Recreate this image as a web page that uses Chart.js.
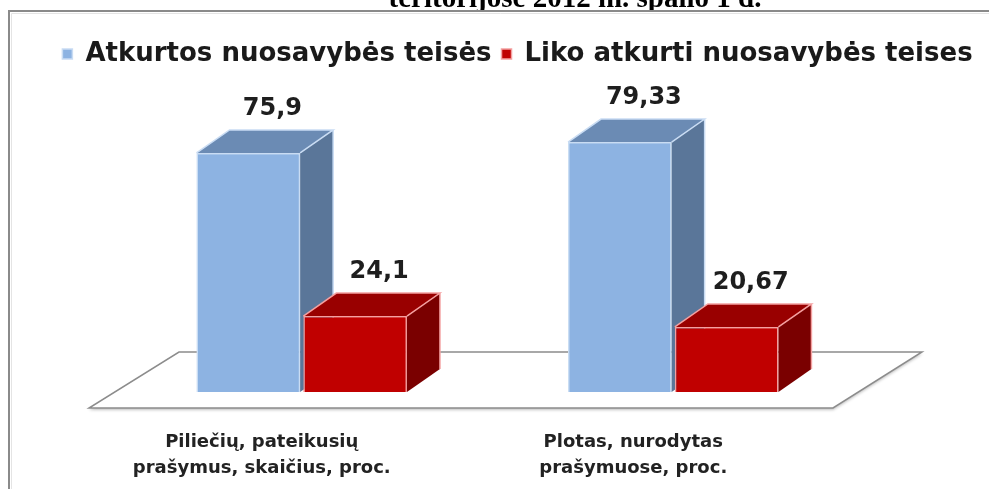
<!DOCTYPE html>
<html>
<head>
<meta charset="utf-8">
<script src="https://cdn.jsdelivr.net/npm/chart.js@4.4.1/dist/chart.umd.min.js"></script>
<style>
  html, body { margin: 0; padding: 0; background: #fff; }
  #wrap { width: 989px; height: 489px; position: relative; }
</style>
</head>
<body>
<div id="wrap"><canvas id="chart"></canvas></div>
<script>
// data
var categories = [["Piliečių, pateikusių", "prašymus, skaičius, proc."], ["Plotas, nurodytas", "prašymuose, proc."]];
var seriesNames = ["Atkurtos nuosavybės teisės", "Liko atkurti nuosavybės teises"];
var restored = [75.9, 79.33];
var remaining = [24.1, 20.67];
var titleText = "teritorijose 2012 m. spalio 1 d.";

// colours per series: front, side, top, edge
var faces = [
    { front: '#8db3e2', side: '#5a7699', top: '#6b8bb4', edge: '#c9dcf3' },
    { front: '#c00000', side: '#7a0000', top: '#990000', edge: '#f4a0a0' }
];
var DX = 33, DY = -23;

function fmt(v) { return String(v).replace('.', ','); }

// frame, title, floor
var backdrop = {
    id: 'backdrop',
    beforeDraw: function (chart) {
        var ctx = chart.ctx;
        ctx.save();
        ctx.fillStyle = '#fff';
        ctx.fillRect(0, 0, chart.width, chart.height);
        ctx.font = 'bold 29px "Liberation Serif", "Times New Roman", serif';
        ctx.fillStyle = '#000';
        ctx.textAlign = 'center';
        ctx.textBaseline = 'alphabetic';
        ctx.fillText(titleText, 575, 7);
        ctx.fillStyle = '#fff';
        ctx.fillRect(0, 10, chart.width, chart.height);
        ctx.strokeStyle = '#8a8a8a';
        ctx.lineWidth = 2;
        ctx.beginPath();
        ctx.moveTo(9, chart.height);
        ctx.lineTo(9, 11);
        ctx.lineTo(chart.width, 11);
        ctx.stroke();
        ctx.strokeStyle = '#e4e4e4';
        ctx.lineWidth = 1;
        ctx.beginPath();
        ctx.moveTo(11.5, chart.height);
        ctx.lineTo(11.5, 13.5);
        ctx.lineTo(chart.width, 13.5);
        ctx.stroke();
        ctx.restore();
    },
    beforeDatasetsDraw: function (chart) {
        var ctx = chart.ctx, ca = chart.chartArea;
        var y0 = chart.scales.y.getPixelForValue(0);
        var fl = ca.left - 27, fr = ca.right - 26, fy = y0 + 16;
        var bl = ca.left + 63, br = ca.right + 63, by = y0 - 40;
        ctx.save();
        ctx.fillStyle = '#ffffff';
        ctx.shadowColor = 'rgba(0,0,0,0.25)';
        ctx.shadowBlur = 3;
        ctx.shadowOffsetY = 2;
        ctx.beginPath();
        ctx.moveTo(fl, fy);
        ctx.lineTo(fr, fy);
        ctx.lineTo(br, by);
        ctx.lineTo(bl, by);
        ctx.closePath();
        ctx.fill();
        ctx.shadowColor = 'transparent';
        ctx.strokeStyle = '#8c8c8c';
        ctx.lineWidth = 1.5;
        ctx.stroke();
        ctx.restore();
    }
};

// 3d boxes (front redrawn in series order so each box hides the one behind), labels
var boxes = {
    id: 'boxes',
    afterDatasetsDraw: function (chart) {
        var ctx = chart.ctx;
        chart.data.datasets.forEach(function (ds, i) {
            var f = faces[i];
            chart.getDatasetMeta(i).data.forEach(function (bar, j) {
                var l = bar.x - bar.width / 2, r = bar.x + bar.width / 2;
                var t = bar.y, b = bar.base;
                bar.draw(ctx, chart.chartArea);
                ctx.save();
                ctx.lineWidth = 1.5;
                ctx.strokeStyle = f.edge;
                ctx.fillStyle = f.side;
                ctx.beginPath();
                ctx.moveTo(r, t);
                ctx.lineTo(r + DX, t + DY);
                ctx.lineTo(r + DX, b + DY);
                ctx.lineTo(r, b);
                ctx.closePath();
                ctx.fill();
                ctx.fillStyle = f.top;
                ctx.beginPath();
                ctx.moveTo(l, t);
                ctx.lineTo(l + DX, t + DY);
                ctx.lineTo(r + DX, t + DY);
                ctx.lineTo(r, t);
                ctx.closePath();
                ctx.fill();
                ctx.beginPath();
                ctx.moveTo(l, t);
                ctx.lineTo(l + DX, t + DY);
                ctx.lineTo(r + DX, t + DY);
                ctx.lineTo(r, t);
                ctx.moveTo(r + DX, t + DY);
                ctx.lineTo(r + DX, b + DY);
                ctx.stroke();
                ctx.font = 'bold 24px "DejaVu Sans", sans-serif';
                ctx.fillStyle = '#1e1e1e';
                ctx.textAlign = 'center';
                ctx.textBaseline = 'middle';
                ctx.fillText(fmt(ds.data[j]), bar.x + 24, t - 44);
                ctx.restore();
            });
        });
    },
    afterDraw: function (chart) {
        var ctx = chart.ctx, x = chart.scales.x;
        var y0 = chart.scales.y.getPixelForValue(0);
        ctx.save();
        ctx.font = 'bold 18px "DejaVu Sans", sans-serif';
        ctx.fillStyle = '#222';
        ctx.textAlign = 'center';
        ctx.textBaseline = 'middle';
        categories.forEach(function (lines, i) {
            var cx = x.getPixelForValue(i) - 40;
            lines.forEach(function (s, k) {
                ctx.fillText(s, cx, y0 + 50 + k * 26);
            });
        });
        ctx.restore();
    }
};

var chart = new Chart(document.getElementById('chart'), {
    type: 'bar',
    plugins: [backdrop, boxes],
    data: {
        labels: categories,
        datasets: [{
            label: seriesNames[0],
            data: restored,
            backgroundColor: faces[0].front,
            borderColor: faces[0].edge,
            borderWidth: 1.5
        }, {
            label: seriesNames[1],
            data: remaining,
            backgroundColor: faces[1].front,
            borderColor: faces[1].edge,
            borderWidth: 1.5
        }]
    },
    options: {
        responsive: true,
        maintainAspectRatio: false,
        animation: false,
        events: [],
        layout: { padding: { top: 31, left: 46, right: 0, bottom: 97 } },
        datasets: { bar: { categoryPercentage: 0.575, barPercentage: 0.97 } },
        plugins: {
            tooltip: { enabled: false },
            title: { display: false },
            legend: {
                position: 'top',
                labels: {
                    boxWidth: 10,
                    boxHeight: 10,
                    padding: 10,
                    color: '#1a1a1a',
                    font: { family: '"DejaVu Sans", sans-serif', size: 26, weight: 'bold' }
                }
            }
        },
        scales: {
            x: { display: false },
            y: {
                min: 0, max: 100,
                ticks: { display: false },
                grid: { display: false },
                border: { display: false },
                afterFit: function (s) { s.width = 70; }
            },
            y2: {
                position: 'right',
                ticks: { display: false },
                grid: { display: false },
                border: { display: false },
                afterFit: function (s) { s.width = 130; }
            }
        }
    }
});
</script>
</body>
</html>
